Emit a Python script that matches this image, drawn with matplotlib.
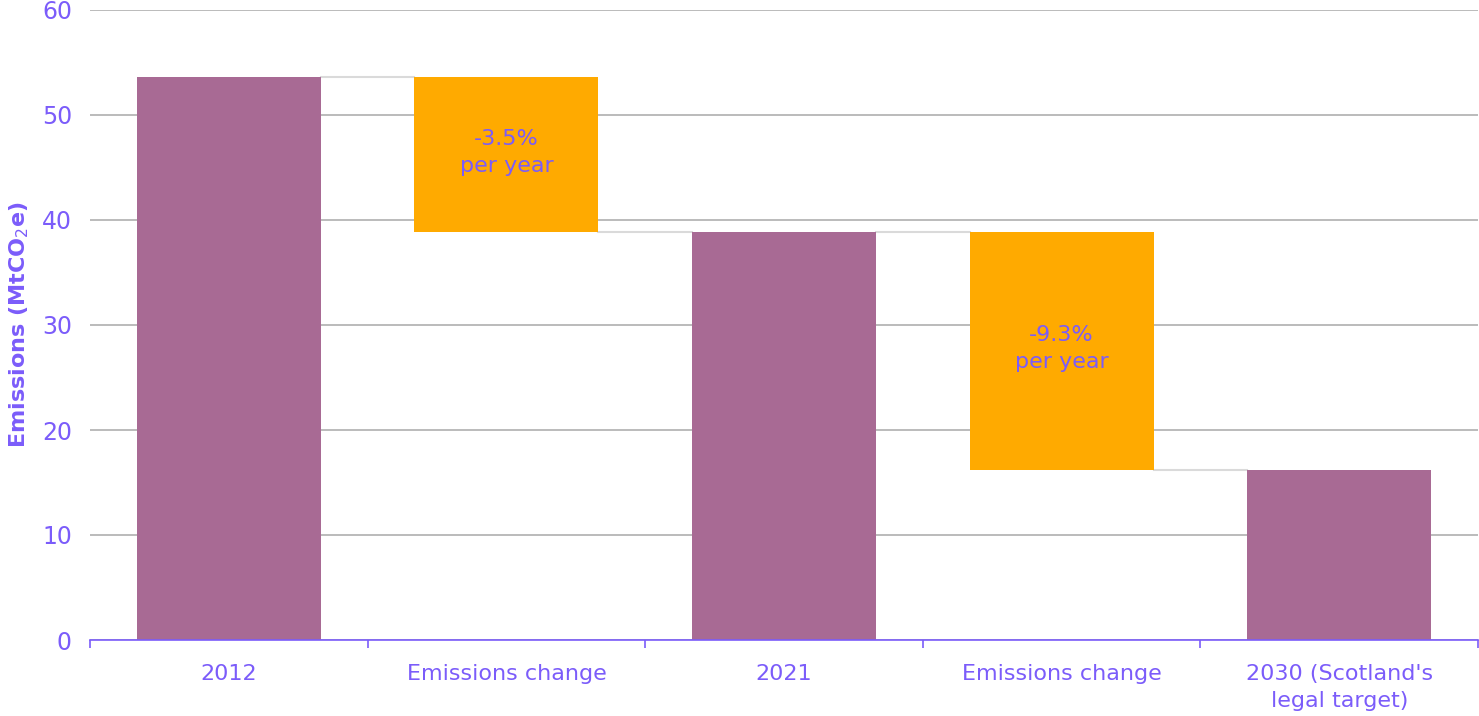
import matplotlib.pyplot as plt
import numpy as np

# waterfall data (MtCO2e)
categories = ["2012", "Emissions change", "2021", "Emissions change", "2030 (Scotland's\nlegal target)"]
totals = [53.6, None, 38.9, None, 16.2]
change_labels = ["-3.5%\nper year", "-9.3%\nper year"]

purple_txt = "#7B5CFA"
bar_col = "#A86A94"
orange = "#FFAA00"

plt.rcParams['font.family'] = ['DejaVu Sans']

fig = plt.figure(figsize=(14.79, 7.16), dpi=100)
ax = fig.add_axes([90/1479, 76/716, 1388/1479, 630/716])

x = np.arange(len(categories))
w = 0.663

# build bottoms/heights for waterfall
bottoms, heights, colors = [], [], []
for i, v in enumerate(totals):
    if v is not None:
        bottoms.append(0); heights.append(v); colors.append(bar_col)
    else:
        prev, nxt = totals[i-1], totals[i+1]
        bottoms.append(nxt); heights.append(prev - nxt); colors.append(orange)

ax.bar(x, heights, bottom=bottoms, width=w, color=colors, zorder=3)

# connectors
for i in range(len(x) - 1):
    if colors[i] == bar_col:
        level = heights[i]
    else:
        level = bottoms[i]
    ax.plot([x[i] + w/2, x[i+1] - w/2], [level, level], color="#DADADA", lw=1.5, zorder=2)

# change labels
k = 0
for i in range(len(x)):
    if colors[i] == orange:
        ax.text(x[i], bottoms[i] + heights[i]/2 + 0.2, change_labels[k], ha='center', va='center',
                fontsize=16, color=purple_txt, linespacing=1.45, zorder=4)
        k += 1

ax.set_xlim(-0.5, len(x) - 0.5)
ax.set_ylim(0, 60)
ax.set_yticks(range(0, 61, 10))
ax.yaxis.grid(True, color="#AFAFAF", lw=1.2, zorder=0)
ax.set_axisbelow(True)

ax.set_xticks(x)
ax.set_xticklabels(categories, fontsize=16, color=purple_txt, linespacing=1.45)
ax.set_xticks(np.arange(-0.5, len(x), 1), minor=True)
ax.tick_params(axis='x', which='major', length=0, pad=17)
ax.tick_params(axis='x', which='minor', length=6, color=purple_txt, width=1.2)
ax.tick_params(axis='y', length=0, labelsize=17, labelcolor=purple_txt, pad=13)

for s in ['top', 'right', 'left']:
    ax.spines[s].set_visible(False)
ax.spines['bottom'].set_color(purple_txt)
ax.spines['bottom'].set_linewidth(1.2)
ax.spines['bottom'].set_zorder(5)

ax.set_ylabel("Emissions (MtCO$_2$e)", fontsize=16, fontweight='bold', color=purple_txt, labelpad=8)

plt.savefig("out.png", dpi=100)
